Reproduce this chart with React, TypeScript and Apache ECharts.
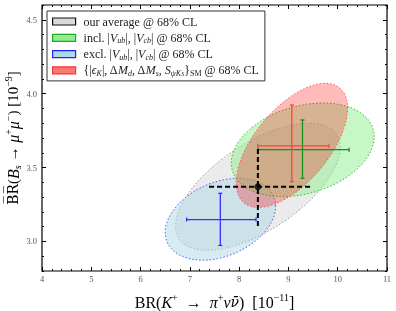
import React, { useEffect, useRef } from "react";
import * as echarts from "echarts";

const FONT = "'Liberation Serif', 'DejaVu Serif', serif";
const DJ = "'DejaVu Serif', serif";

// series names (legend order)
const seriesNames = [
  "our average @ 68% CL",
  "incl. |Vub|, |Vcb| @ 68% CL",
  "excl. |Vub|, |Vcb| @ 68% CL",
  "{|εK|, ΔMd, ΔMs, SψKS}SM @ 68% CL",
];
const legendLabels = [
  "our average @ 68% CL",
  "incl. |{i|V}{s|ub}|, |{i|V}{s|cb}| @ 68% CL",
  "excl. |{i|V}{s|ub}|, |{i|V}{s|cb}| @ 68% CL",
  "{|{i|ϵ}{s|K}|, Δ{i|M}{s|d}, Δ{i|M}{s|s}, {i|S}{s|ψK}{ss|S}}{r|SM} @ 68% CL",
];

// 68% CL regions: [centre x, centre y, half-extent x, half-extent y, correlation]
const averageRegion = [8.38, 3.37, 1.67, 0.43, 0.62];
const inclRegion = [9.29, 3.62, 1.45, 0.317, 0.28];
const exclRegion = [7.62, 3.15, 1.12, 0.277, 0.32];
const smRegion = [9.07, 3.65, 1.13, 0.42, 0.6];

// central values with 1σ ranges: [x, y, xLow, xHigh, yLow, yHigh]
const averagePoint = [8.38, 3.37, 7.39, 9.48, 3.105, 3.646];
const inclPoint = [9.285, 3.621, 8.39, 10.23, 3.427, 3.822];
const exclPoint = [7.618, 3.148, 6.935, 8.343, 2.973, 3.326];
const smPoint = [9.069, 3.647, 8.378, 9.821, 3.404, 3.923];

const xMin = 4;
const xMax = 11;
const yMin = 2.8;
const yMax = 4.6;
const yMajorTicks = [3.0, 3.5, 4.0, 4.5];

const regionFill = [
  "rgba(211,211,211,0.45)",
  "rgba(144,238,144,0.5)",
  "rgba(173,216,230,0.5)",
  "rgba(255,0,0,0.27)",
];
const regionStroke = ["#9a9a9a", "#33bb33", "#5555ff", "#ff5555"];
const legendFill = ["#d9d9d9", "#90ee90", "#add8e6", "#f87b6f"];
const legendBorder = ["#111111", "#22aa22", "#2222ff", "#ff3333"];
const barColor = ["#000000", "#1a8f1a", "#3333ff", "#ff4040"];

const regions = [averageRegion, inclRegion, exclRegion, smRegion];
const points = [averagePoint, inclPoint, exclPoint, smPoint];

function ellipseRenderer(fill: string, stroke: string) {
  return (_params: any, api: any) => {
    const cx = api.value(0) as number;
    const cy = api.value(1) as number;
    const ax = api.value(2) as number;
    const ay = api.value(3) as number;
    const r = api.value(4) as number;
    const s = Math.sqrt(1 - r * r);
    const pts: number[][] = [];
    const n = 120;
    for (let i = 0; i < n; i++) {
      const t = (2 * Math.PI * i) / n;
      pts.push(api.coord([cx + ax * Math.cos(t), cy + ay * (r * Math.cos(t) + s * Math.sin(t))]));
    }
    return {
      type: "polygon",
      shape: { points: pts },
      style: { fill, stroke, lineWidth: 1, lineDash: [1.5, 2] },
    };
  };
}

function errorBarRenderer(color: string, dashed: boolean) {
  return (_params: any, api: any) => {
    const x = api.value(0) as number;
    const y = api.value(1) as number;
    const xl = api.coord([api.value(2), y]);
    const xh = api.coord([api.value(3), y]);
    const yl = api.coord([x, api.value(4)]);
    const yh = api.coord([x, api.value(5)]);
    const style = dashed
      ? { stroke: color, lineWidth: 2, lineDash: [5, 3] }
      : { stroke: color, lineWidth: 1.3 };
    const children: any[] = [
      { type: "line", shape: { x1: xl[0], y1: xl[1], x2: xh[0], y2: xh[1] }, style },
      { type: "line", shape: { x1: yl[0], y1: yl[1], x2: yh[0], y2: yh[1] }, style },
    ];
    if (!dashed) {
      const c = 2;
      children.push(
        { type: "line", shape: { x1: xl[0], y1: xl[1] - c, x2: xl[0], y2: xl[1] + c }, style },
        { type: "line", shape: { x1: xh[0], y1: xh[1] - c, x2: xh[0], y2: xh[1] + c }, style },
        { type: "line", shape: { x1: yl[0] - c, y1: yl[1], x2: yl[0] + c, y2: yl[1] }, style },
        { type: "line", shape: { x1: yh[0] - c, y1: yh[1], x2: yh[0] + c, y2: yh[1] }, style }
      );
    }
    return { type: "group", children };
  };
}

const LF = 12;
const legendRich = {
  i: { fontFamily: FONT, fontSize: LF, fontStyle: "italic", lineHeight: 15, color: "#222" },
  s: { fontFamily: FONT, fontSize: 8, fontStyle: "italic", lineHeight: 9, padding: [6, 0, 0, 0], color: "#222" },
  ss: { fontFamily: FONT, fontSize: 6, fontStyle: "italic", lineHeight: 7, padding: [8, 0, 0, 0], color: "#222" },
  r: { fontFamily: FONT, fontSize: 8, lineHeight: 9, padding: [6, 0, 0, 0], color: "#222" },
};

const NF = 16;
const nameRich = {
  i: { fontFamily: FONT, fontSize: NF, fontStyle: "italic", lineHeight: 20, color: "#000" },
  nb: { fontFamily: DJ, fontSize: NF - 2, fontStyle: "italic", lineHeight: 20, color: "#000" },
  ob: { fontFamily: DJ, fontSize: 14, lineHeight: 20, color: "#000" },
  sup: { fontFamily: FONT, fontSize: 10, lineHeight: 11, padding: [0, 0, 9, 0], color: "#000" },
  sub: { fontFamily: FONT, fontSize: 10, fontStyle: "italic", lineHeight: 11, padding: [9, 0, 0, 0], color: "#000" },
};

export default function App() {
  const ref = useRef<HTMLDivElement>(null);
  useEffect(() => {
    const chart = echarts.init(ref.current!, null, { renderer: "svg" });
    const series: any[] = [];
    // draw order: average, excl, incl, SM
    const order = [0, 2, 1, 3];
    order.forEach((i, k) => {
      series.push({
        type: "custom",
        name: seriesNames[i],
        renderItem: ellipseRenderer(regionFill[i], regionStroke[i]),
        data: [regions[i]],
        encode: { x: 0, y: 1 },
        itemStyle: { color: legendFill[i] },
        z: 2 + k,
        silent: true,
      });
    });
    [2, 1, 3, 0].forEach((i, k) => {
      series.push({
        type: "custom",
        name: "bars" + i,
        renderItem: errorBarRenderer(barColor[i], i === 0),
        data: [points[i]],
        encode: { x: 0, y: 1 },
        z: 10 + k,
        silent: true,
      });
    });
    series.push({
      type: "scatter",
      name: "average",
      data: [[averagePoint[0], averagePoint[1]]],
      symbolSize: 7,
      itemStyle: { color: "#000" },
      z: 20,
      silent: true,
    });

    const tickLine = { color: "#000", width: 1 };
    const option: any = {
      animation: false,
      grid: {
        left: 42,
        right: 9,
        top: 5,
        bottom: 40,
        show: true,
        borderColor: "#000",
        borderWidth: 1.2,
        backgroundColor: "transparent",
        outerBoundsMode: "none",
        containLabel: false,
      },
      legend: {
        data: seriesNames.map((n, i) => ({
          name: n,
          icon: "rect",
          itemStyle: { color: legendFill[i], borderColor: legendBorder[i], borderWidth: 1.2 },
        })),
        orient: "vertical",
        left: 47,
        top: 11,
        itemWidth: 23,
        itemHeight: 7,
        itemGap: 1.3,
        padding: [3, 6, 3, 5],
        borderColor: "#333",
        borderWidth: 1,
        backgroundColor: "#fff",
        selectedMode: false,
        textStyle: {
          fontFamily: FONT,
          fontSize: LF,
          color: "#222",
          lineHeight: 15,
          padding: [0, 0, 0, 3],
          rich: legendRich,
        },
        formatter: (name: string) => legendLabels[seriesNames.indexOf(name)],
        z: 30,
      },
      xAxis: [
        {
          type: "value",
          position: "bottom",
          min: xMin,
          max: xMax,
          interval: 1,
          axisLine: { show: false },
          splitLine: { show: false },
          axisTick: { inside: true, length: 4, lineStyle: tickLine },
          minorTick: { show: true, splitNumber: 5, length: 2, lineStyle: tickLine },
          axisLabel: { fontFamily: FONT, fontSize: 8.5, color: "#555", margin: 3 },
          name: "BR({i|K}{sup|+}  →  {i|π}{sup|+}{i|ν}{nb|ν̄})  [10{sup|−11}]",
          nameLocation: "middle",
          nameGap: 21,
          nameMoveOverlap: false,
          nameTextStyle: { fontFamily: FONT, fontSize: NF, color: "#000", lineHeight: 20, rich: nameRich },
        },
        {
          type: "value",
          position: "top",
          min: xMin,
          max: xMax,
          interval: 1,
          axisLine: { show: false },
          splitLine: { show: false },
          axisTick: { inside: true, length: 4, lineStyle: tickLine },
          minorTick: { show: true, splitNumber: 5, length: 2, lineStyle: tickLine },
          axisLabel: { show: false },
        },
      ],
      yAxis: [
        {
          type: "value",
          position: "left",
          min: yMin,
          max: yMax,
          interval: 0.1,
          axisLine: { show: false },
          splitLine: { show: false },
          axisTick: { inside: true, length: 4, lineStyle: tickLine, customValues: yMajorTicks },
          axisLabel: {
            fontFamily: FONT,
            fontSize: 8.5,
            color: "#555",
            margin: 5,
            customValues: yMajorTicks,
            formatter: (v: number) => v.toFixed(1),
          },
          name: "{ob|B̅R̅}({i|B}{sub|s} → {i|μ}{sup|+}{i|μ}{sup|−}) [10{sup|−9}]",
          nameLocation: "middle",
          nameGap: 19,
          nameMoveOverlap: false,
          nameTextStyle: { fontFamily: FONT, fontSize: 15, color: "#000", lineHeight: 20, rich: nameRich },
        },
        {
          type: "value",
          position: "left",
          min: yMin,
          max: yMax,
          interval: 0.1,
          axisLine: { show: false },
          splitLine: { show: false },
          axisTick: { inside: true, length: 2, lineStyle: tickLine },
          axisLabel: { show: false },
        },
        {
          type: "value",
          position: "right",
          min: yMin,
          max: yMax,
          interval: 0.1,
          axisLine: { show: false },
          splitLine: { show: false },
          axisTick: { inside: true, length: 4, lineStyle: tickLine, customValues: yMajorTicks },
          axisLabel: { show: false },
        },
        {
          type: "value",
          position: "right",
          min: yMin,
          max: yMax,
          interval: 0.1,
          axisLine: { show: false },
          splitLine: { show: false },
          axisTick: { inside: true, length: 2, lineStyle: tickLine },
          axisLabel: { show: false },
        },
      ],
      series,
    };
    chart.setOption(option);
    return () => chart.dispose();
  }, []);
  return (
    <div
      ref={ref}
      style={{ position: "fixed", left: 0, top: 0, width: 396, height: 311 }}
    />
  );
}
